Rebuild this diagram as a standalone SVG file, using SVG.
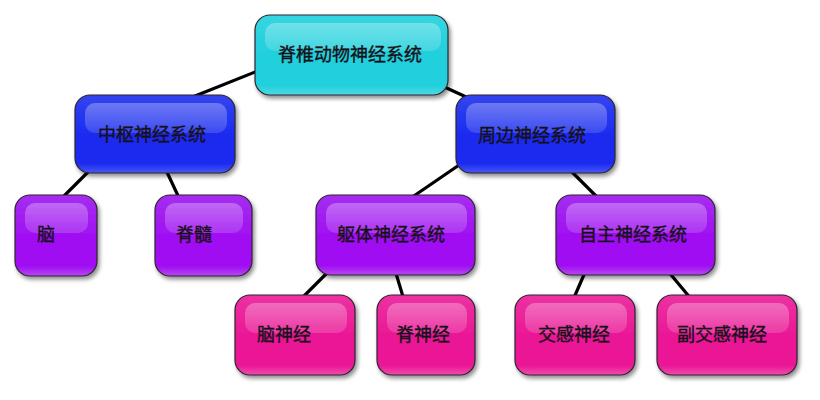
<svg xmlns="http://www.w3.org/2000/svg" width="820" height="400" viewBox="0 0 820 400">
<style>
.edge{stroke:#000;stroke-width:3.2;fill:none;stroke-linecap:butt}
.box{stroke:#2e2430;stroke-width:1.2;filter:url(#shadow)}
.hl{fill:url(#gHL);stroke:none}
.cyan{fill:url(#gCyan)}
.blue{fill:url(#gBlue)}
.purple{fill:url(#gPurple)}
.pink{fill:url(#gPink)}
text{font-family:"Noto Sans CJK SC","Noto Sans",sans-serif;font-size:18px;fill:#161018;stroke:#161018;stroke-width:0.35;text-anchor:middle;dominant-baseline:central}
</style>
<defs>
<filter id="shadow" x="-10%" y="-10%" width="130%" height="135%">
<feGaussianBlur in="SourceAlpha" stdDeviation="2"/>
<feOffset dx="2" dy="3" result="b"/>
<feComponentTransfer><feFuncA type="linear" slope="0.45"/></feComponentTransfer>
<feMerge><feMergeNode/><feMergeNode in="SourceGraphic"/></feMerge>
</filter>
<linearGradient id="gHL" x1="0" y1="0" x2="0" y2="1">
<stop offset="0" stop-color="#fff" stop-opacity="0.3"/>
<stop offset="1" stop-color="#fff" stop-opacity="0.14"/>
</linearGradient>
<linearGradient id="gCyan" x1="0" y1="0" x2="0" y2="1">
<stop offset="0" stop-color="#35d6e0"/>
<stop offset="0.5" stop-color="#22cfdc"/>
<stop offset="0.88" stop-color="#22cfdc"/>
<stop offset="1" stop-color="#4cdbe4"/>
</linearGradient>
<linearGradient id="gBlue" x1="0" y1="0" x2="0" y2="1">
<stop offset="0" stop-color="#3444ee"/>
<stop offset="0.5" stop-color="#1a2cf0"/>
<stop offset="0.88" stop-color="#1a2cf0"/>
<stop offset="1" stop-color="#4a58f2"/>
</linearGradient>
<linearGradient id="gPurple" x1="0" y1="0" x2="0" y2="1">
<stop offset="0" stop-color="#a52ef0"/>
<stop offset="0.5" stop-color="#a010f2"/>
<stop offset="0.88" stop-color="#a010f2"/>
<stop offset="1" stop-color="#b548f2"/>
</linearGradient>
<linearGradient id="gPink" x1="0" y1="0" x2="0" y2="1">
<stop offset="0" stop-color="#ec32a2"/>
<stop offset="0.5" stop-color="#ea1896"/>
<stop offset="0.88" stop-color="#ea1896"/>
<stop offset="1" stop-color="#f04cae"/>
</linearGradient>
</defs>

<g id="connectors">
<line class="edge" x1="190" y1="98" x2="265" y2="68"/>
<line class="edge" x1="440" y1="85" x2="475" y2="101"/>
<line class="edge" x1="90" y1="170" x2="60" y2="200"/>
<line class="edge" x1="166" y1="170" x2="180" y2="200"/>
<line class="edge" x1="462" y1="163" x2="408" y2="200"/>
<line class="edge" x1="570" y1="170" x2="600" y2="200"/>
<line class="edge" x1="330" y1="270" x2="300" y2="300"/>
<line class="edge" x1="395" y1="270" x2="404" y2="300"/>
<line class="edge" x1="586" y1="270" x2="573" y2="300"/>
<line class="edge" x1="667" y1="270" x2="692" y2="300"/>
</g>

<g id="n-root">
<rect class="box cyan" x="255" y="15" width="193" height="80" rx="15"/>
<rect class="hl" x="265" y="23" width="176" height="28" rx="10"/>
<text x="350" y="53">脊椎动物神经系统</text>
</g>
<g id="n-central">
<rect class="box blue" x="75" y="95" width="160" height="78" rx="15"/>
<rect class="hl" x="85" y="103" width="142" height="30" rx="10"/>
<text x="152" y="133">中枢神经系统</text>
</g>
<g id="n-peripheral">
<rect class="box blue" x="456" y="95" width="159" height="78" rx="15"/>
<rect class="hl" x="466" y="103" width="141" height="30" rx="10"/>
<text x="532" y="134">周边神经系统</text>
</g>
<g id="n-brain">
<rect class="box purple" x="15" y="195" width="82" height="81" rx="15"/>
<rect class="hl" x="25" y="203" width="63" height="30" rx="10"/>
<text x="46" y="233">脑</text>
</g>
<g id="n-cord">
<rect class="box purple" x="155" y="195" width="97" height="81" rx="15"/>
<rect class="hl" x="165" y="203" width="78" height="30" rx="10"/>
<text x="194" y="233">脊髓</text>
</g>
<g id="n-somatic">
<rect class="box purple" x="316" y="195" width="159" height="80" rx="15"/>
<rect class="hl" x="326" y="203" width="141" height="30" rx="10"/>
<text x="391" y="233">躯体神经系统</text>
</g>
<g id="n-autonomic">
<rect class="box purple" x="556" y="195" width="159" height="80" rx="15"/>
<rect class="hl" x="566" y="203" width="141" height="30" rx="10"/>
<text x="633" y="233">自主神经系统</text>
</g>
<g id="n-cranial">
<rect class="box pink" x="235" y="295" width="120" height="80" rx="15"/>
<rect class="hl" x="245" y="303" width="102" height="30" rx="10"/>
<text x="284" y="333">脑神经</text>
</g>
<g id="n-spinal">
<rect class="box pink" x="377" y="295" width="98" height="80" rx="15"/>
<rect class="hl" x="387" y="303" width="80" height="30" rx="10"/>
<text x="423" y="333">脊神经</text>
</g>
<g id="n-sympathetic">
<rect class="box pink" x="515" y="295" width="120" height="80" rx="15"/>
<rect class="hl" x="525" y="303" width="102" height="30" rx="10"/>
<text x="574" y="333">交感神经</text>
</g>
<g id="n-parasympathetic">
<rect class="box pink" x="657" y="295" width="140" height="80" rx="15"/>
<rect class="hl" x="667" y="303" width="122" height="30" rx="10"/>
<text x="722" y="333">副交感神经</text>
</g>
</svg>
